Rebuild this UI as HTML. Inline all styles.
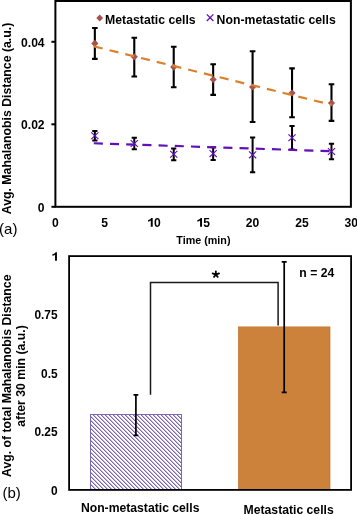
<!DOCTYPE html><html><head><meta charset="utf-8"><style>html,body{margin:0;padding:0;background:#fff;}svg{display:block;will-change:transform;}text{font-family:"Liberation Sans",sans-serif;}</style></head><body>
<svg width="357" height="514" viewBox="0 0 357 514">
<defs><pattern id="h" patternUnits="userSpaceOnUse" x="0" y="0" width="4" height="4"><rect width="4" height="4" fill="#fff"/><g shape-rendering="crispEdges"><rect x="2" y="0" width="1" height="1" fill="#7862AE"/><rect x="3" y="0" width="1" height="1" fill="#C2B7DD"/><rect x="3" y="1" width="1" height="1" fill="#7862AE"/><rect x="0" y="1" width="1" height="1" fill="#C2B7DD"/><rect x="0" y="2" width="1" height="1" fill="#7862AE"/><rect x="1" y="2" width="1" height="1" fill="#C2B7DD"/><rect x="1" y="3" width="1" height="1" fill="#7862AE"/><rect x="2" y="3" width="1" height="1" fill="#C2B7DD"/></g></pattern></defs>
<g fill="none" stroke="#000" stroke-width="2">
<rect x="55.4" y="1" width="295.5" height="205.8"/>
<line x1="51.4" y1="206.80" x2="55.4" y2="206.80"/>
<line x1="51.4" y1="124.30" x2="55.4" y2="124.30"/>
<line x1="51.4" y1="41.80" x2="55.4" y2="41.80"/>
</g>
<g font-weight="bold" font-size="12.1" text-anchor="end" fill="#000">
<text x="44.6" y="211.70">0</text>
<text x="44.6" y="129.20">0.02</text>
<text x="44.6" y="46.70">0.04</text>
</g>
<text x="52.035" y="226.700" font-weight="bold" font-size="12.1">0</text>
<text x="101.335" y="226.700" font-weight="bold" font-size="12.1">5</text>
<path transform="translate(147.271,226.700) scale(12.100)" d="M0.45,0 L0.45,-0.716 L0.33,-0.716 C0.29,-0.64 0.19,-0.575 0.07,-0.55 L0.07,-0.41 C0.15,-0.43 0.24,-0.465 0.29,-0.51 L0.29,0 Z" fill="#000"/><text x="154.000" y="226.700" font-weight="bold" font-size="12.1">0</text>
<path transform="translate(196.571,226.700) scale(12.100)" d="M0.45,0 L0.45,-0.716 L0.33,-0.716 C0.29,-0.64 0.19,-0.575 0.07,-0.55 L0.07,-0.41 C0.15,-0.43 0.24,-0.465 0.29,-0.51 L0.29,0 Z" fill="#000"/><text x="203.300" y="226.700" font-weight="bold" font-size="12.1">5</text>
<text x="245.871" y="226.700" font-weight="bold" font-size="12.1">2</text><text x="252.600" y="226.700" font-weight="bold" font-size="12.1">0</text>
<text x="295.171" y="226.700" font-weight="bold" font-size="12.1">2</text><text x="301.900" y="226.700" font-weight="bold" font-size="12.1">5</text>
<text x="344.471" y="226.700" font-weight="bold" font-size="12.1">3</text><text x="351.200" y="226.700" font-weight="bold" font-size="12.1">0</text>
<text x="203.4" y="243.5" font-weight="bold" font-size="10.75" text-anchor="middle">Time (min)</text>
<text transform="translate(10.5,118.5) rotate(-90)" font-weight="bold" font-size="12.3" text-anchor="middle">Avg. Mahalanobis Distance (a.u.)</text>
<text x="-0.9" y="233.8" font-size="15">(a)</text>
<path d="M99.7,14.6 L103.1,18 L99.7,21.4 L96.3,18 Z" fill="#A8524C"/>
<text x="105.1" y="23.5" font-weight="bold" font-size="12.25">Metastatic cells</text>
<path d="M206.8,14.4 L213.4,21 M213.4,14.4 L206.8,21" stroke="#6210B8" stroke-width="1.3" fill="none"/>
<text x="216.6" y="23.5" font-weight="bold" font-size="12.25">Non-metastatic cells</text>
<path d="M94.84,28.00 V58.90 M92.04,28.00 H97.64 M92.04,58.90 H97.64" stroke="#000" stroke-width="2.1" fill="none"/>
<path d="M134.28,37.80 V76.50 M131.48,37.80 H137.08 M131.48,76.50 H137.08" stroke="#000" stroke-width="2.1" fill="none"/>
<path d="M173.72,46.70 V87.30 M170.92,46.70 H176.52 M170.92,87.30 H176.52" stroke="#000" stroke-width="2.1" fill="none"/>
<path d="M213.16,64.20 V94.90 M210.36,64.20 H215.96 M210.36,94.90 H215.96" stroke="#000" stroke-width="2.1" fill="none"/>
<path d="M252.60,51.20 V122.00 M249.80,51.20 H255.40 M249.80,122.00 H255.40" stroke="#000" stroke-width="2.1" fill="none"/>
<path d="M292.04,68.40 V117.20 M289.24,68.40 H294.84 M289.24,117.20 H294.84" stroke="#000" stroke-width="2.1" fill="none"/>
<path d="M331.48,84.20 V120.90 M328.68,84.20 H334.28 M328.68,120.90 H334.28" stroke="#000" stroke-width="2.1" fill="none"/>
<path d="M94.84,130.90 V140.50 M92.24,130.90 H97.44 M92.24,140.50 H97.44" stroke="#000" stroke-width="2.0" fill="none"/>
<path d="M134.28,137.70 V149.30 M131.68,137.70 H136.88 M131.68,149.30 H136.88" stroke="#000" stroke-width="2.0" fill="none"/>
<path d="M173.72,148.40 V160.20 M171.12,148.40 H176.32 M171.12,160.20 H176.32" stroke="#000" stroke-width="2.0" fill="none"/>
<path d="M213.16,147.20 V160.00 M210.56,147.20 H215.76 M210.56,160.00 H215.76" stroke="#000" stroke-width="2.0" fill="none"/>
<path d="M252.60,137.40 V172.30 M250.00,137.40 H255.20 M250.00,172.30 H255.20" stroke="#000" stroke-width="2.0" fill="none"/>
<path d="M292.04,126.00 V149.40 M289.44,126.00 H294.64 M289.44,149.40 H294.64" stroke="#000" stroke-width="2.0" fill="none"/>
<path d="M331.48,143.70 V159.30 M328.88,143.70 H334.08 M328.88,159.30 H334.08" stroke="#000" stroke-width="2.0" fill="none"/>
<path d="M94.84,39.80 L98.44,43.40 L94.84,47.00 L91.24,43.40 Z" fill="#A8524C"/>
<path d="M134.28,53.20 L137.88,56.80 L134.28,60.40 L130.68,56.80 Z" fill="#A8524C"/>
<path d="M173.72,63.50 L177.32,67.10 L173.72,70.70 L170.12,67.10 Z" fill="#A8524C"/>
<path d="M213.16,75.90 L216.76,79.50 L213.16,83.10 L209.56,79.50 Z" fill="#A8524C"/>
<path d="M252.60,83.40 L256.20,87.00 L252.60,90.60 L249.00,87.00 Z" fill="#A8524C"/>
<path d="M292.04,89.40 L295.64,93.00 L292.04,96.60 L288.44,93.00 Z" fill="#A8524C"/>
<path d="M331.48,99.40 L335.08,103.00 L331.48,106.60 L327.88,103.00 Z" fill="#A8524C"/>
<path d="M91.24,132.30 L98.44,139.10 M98.44,132.30 L91.24,139.10" stroke="#6210B8" stroke-width="1.15" fill="none"/>
<path d="M130.68,140.10 L137.88,146.90 M137.88,140.10 L130.68,146.90" stroke="#6210B8" stroke-width="1.15" fill="none"/>
<path d="M170.12,150.90 L177.32,157.70 M177.32,150.90 L170.12,157.70" stroke="#6210B8" stroke-width="1.15" fill="none"/>
<path d="M209.56,150.20 L216.76,157.00 M216.76,150.20 L209.56,157.00" stroke="#6210B8" stroke-width="1.15" fill="none"/>
<path d="M249.00,151.45 L256.20,158.25 M256.20,151.45 L249.00,158.25" stroke="#6210B8" stroke-width="1.15" fill="none"/>
<path d="M288.44,134.30 L295.64,141.10 M295.64,134.30 L288.44,141.10" stroke="#6210B8" stroke-width="1.15" fill="none"/>
<path d="M327.88,148.10 L335.08,154.90 M335.08,148.10 L327.88,154.90" stroke="#6210B8" stroke-width="1.15" fill="none"/>
<line x1="93.8" y1="46.35" x2="331.5" y2="104.75" stroke="#D9822B" stroke-width="2.2" stroke-dasharray="9.1 7.1"/>
<line x1="93.8" y1="143.27" x2="331.5" y2="151.2" stroke="#6210B8" stroke-width="2.2" stroke-dasharray="9.1 7.1"/>
<rect x="90.5" y="414.5" width="91" height="75.4" fill="url(#h)" stroke="#7E68B6" stroke-width="1" shape-rendering="crispEdges"/>
<rect x="238.3" y="326.9" width="91.7" height="162.9" fill="#CD823C" stroke="#C47430" stroke-width="0.7"/>
<rect x="69.1" y="256.1" width="282" height="233.8" fill="none" stroke="#000" stroke-width="1.8"/>
<path d="M135.90,394.90 V435.30 M133.50,394.90 H138.30 M133.50,435.30 H138.30" stroke="#000" stroke-width="1.7" fill="none"/>
<path d="M284.20,261.90 V392.30 M281.70,261.90 H286.70 M281.70,392.30 H286.70" stroke="#000" stroke-width="1.7" fill="none"/>
<path d="M150.5,394.8 V282.5 H278.1 V325.4" fill="none" stroke="#1a1a1a" stroke-width="1.5"/>
<path d="M215.85,274.60 L215.85,271.30 M215.85,274.60 L219.04,273.44 M215.85,274.60 L212.66,273.44 M215.85,274.60 L217.71,276.82 M215.85,274.60 L213.99,276.82" stroke="#000" stroke-width="1.8" fill="none" stroke-linecap="round"/>
<text x="299.3" y="276.8" font-weight="bold" font-size="12.2">n = 24</text>
<text x="50.982" y="494.500" font-weight="bold" font-size="11.9">0</text>
<text x="34.439" y="436.050" font-weight="bold" font-size="11.9">0</text><text x="41.057" y="436.050" font-weight="bold" font-size="11.9">.</text><text x="44.363" y="436.050" font-weight="bold" font-size="11.9">2</text><text x="50.982" y="436.050" font-weight="bold" font-size="11.9">5</text>
<text x="41.057" y="377.600" font-weight="bold" font-size="11.9">0</text><text x="47.676" y="377.600" font-weight="bold" font-size="11.9">.</text><text x="50.982" y="377.600" font-weight="bold" font-size="11.9">5</text>
<text x="34.439" y="319.150" font-weight="bold" font-size="11.9">0</text><text x="41.057" y="319.150" font-weight="bold" font-size="11.9">.</text><text x="44.363" y="319.150" font-weight="bold" font-size="11.9">7</text><text x="50.982" y="319.150" font-weight="bold" font-size="11.9">5</text>
<path transform="translate(51.582,260.700) scale(11.900)" d="M0.45,0 L0.45,-0.716 L0.33,-0.716 C0.29,-0.64 0.19,-0.575 0.07,-0.55 L0.07,-0.41 C0.15,-0.43 0.24,-0.465 0.29,-0.51 L0.29,0 Z" fill="#000"/>
<text x="80.9" y="512.2" font-weight="bold" font-size="12.2">Non-metastatic cells</text>
<text x="243.6" y="513.6" font-weight="bold" font-size="12.2">Metastatic cells</text>
<text transform="translate(10.5,375.75) rotate(-90)" font-weight="bold" font-size="12.25" text-anchor="middle">Avg. of total Mahalanobis Distance</text>
<text transform="translate(25.3,376) rotate(-90)" font-weight="bold" font-size="12.25" text-anchor="middle">after 30 min (a.u.)</text>
<text x="2.4" y="497.5" font-size="15">(b)</text>
</svg></body></html>
